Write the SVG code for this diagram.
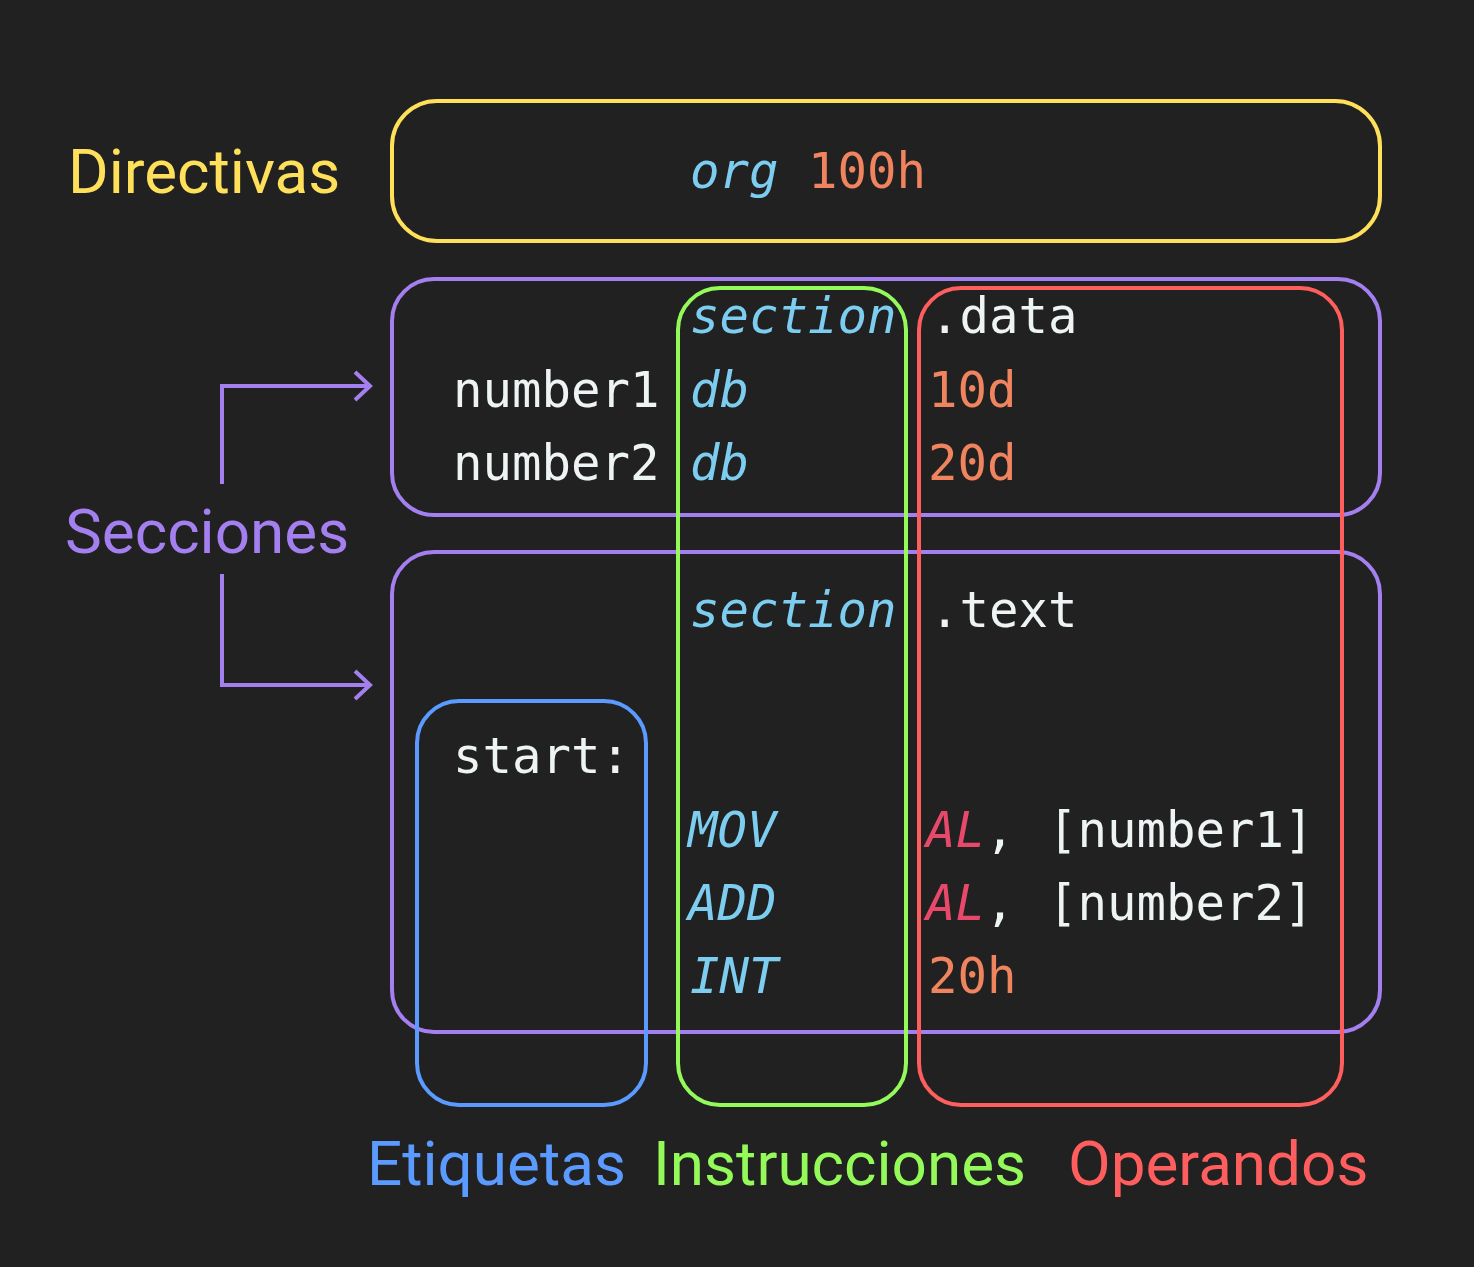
<svg xmlns="http://www.w3.org/2000/svg" width="1474" height="1267" viewBox="0 0 1474 1267">
<defs>
<style>
.box{fill:none;stroke-width:4}
.lbl{font-family:Roboto,"Liberation Sans",sans-serif;font-size:62px}
.code{font-family:"DejaVu Sans Mono","Liberation Mono",monospace;font-size:49px;fill:#eef4f4}
.kw{fill:#7dcdf0;font-style:italic}
.num{fill:#f0845f}
.reg{fill:#e8496a;font-style:italic}
.conn{fill:none;stroke:#a47ff0;stroke-width:4}
</style>
<marker id="chev" viewBox="0 0 20 32" refX="17" refY="16" markerWidth="20" markerHeight="32" markerUnits="userSpaceOnUse" orient="auto">
<path d="M2 2 L17 16 L2 30" fill="none" stroke="#a47ff0" stroke-width="4"/>
</marker>
</defs>
<rect width="1474" height="1267" fill="#212121"/>

<g id="directivas">
<rect class="box" x="392" y="101" width="988" height="140" rx="45" stroke="#ffe05a"/>
<text class="code" x="690" y="188"><tspan class="kw">org</tspan> <tspan class="num">100h</tspan></text>
<text class="lbl" x="68" y="193" fill="#ffe05a">Directivas</text>
</g>

<g id="seccion-data">
<rect class="box" x="392" y="279" width="988" height="236" rx="42" stroke="#a47ff0"/>
</g>
<g id="seccion-text">
<rect class="box" x="392" y="552" width="988" height="480" rx="42" stroke="#a47ff0"/>
</g>

<g id="etiquetas">
<rect class="box" x="417" y="701" width="229" height="404" rx="42" stroke="#5b9bff"/>
<text class="code" x="453" y="407">number1</text>
<text class="code" x="453" y="480">number2</text>
<text class="code" x="453" y="773">start:</text>
<text class="lbl" x="367" y="1185" fill="#5b9bff">Etiquetas</text>
</g>

<g id="instrucciones">
<rect class="box" x="678" y="288" width="228" height="817" rx="42" stroke="#94fa5a"/>
<text class="code kw" x="690" y="333">section</text>
<text class="code kw" x="690" y="407">db</text>
<text class="code kw" x="690" y="480">db</text>
<text class="code kw" x="690" y="627">section</text>
<text class="code kw" x="688" y="847">MOV</text>
<text class="code kw" x="688" y="920">ADD</text>
<text class="code kw" x="690" y="993">INT</text>
<text class="lbl" x="653" y="1185" fill="#94fa5a">Instrucciones</text>
</g>

<g id="operandos">
<rect class="box" x="919" y="288" width="423" height="817" rx="42" stroke="#ff5e5e"/>
<text class="code" x="930" y="333">.data</text>
<text class="code num" x="928" y="407">10d</text>
<text class="code num" x="928" y="480">20d</text>
<text class="code" x="930" y="627">.text</text>
<text class="code" x="926" y="847"><tspan class="reg">AL</tspan>, <tspan x="1048">[number1]</tspan></text>
<text class="code" x="926" y="920"><tspan class="reg">AL</tspan>, <tspan x="1048">[number2]</tspan></text>
<text class="code num" x="928" y="993">20h</text>
<text class="lbl" x="1068" y="1185" fill="#ff5e5e">Operandos</text>
</g>

<g id="secciones">
<text class="lbl" x="65" y="553" fill="#a47ff0">Secciones</text>
</g>

<g id="connectors">
<path class="conn" d="M222 484 V386 H370" marker-end="url(#chev)"/>
<path class="conn" d="M222 574 V685 H370" marker-end="url(#chev)"/>
</g>
</svg>
